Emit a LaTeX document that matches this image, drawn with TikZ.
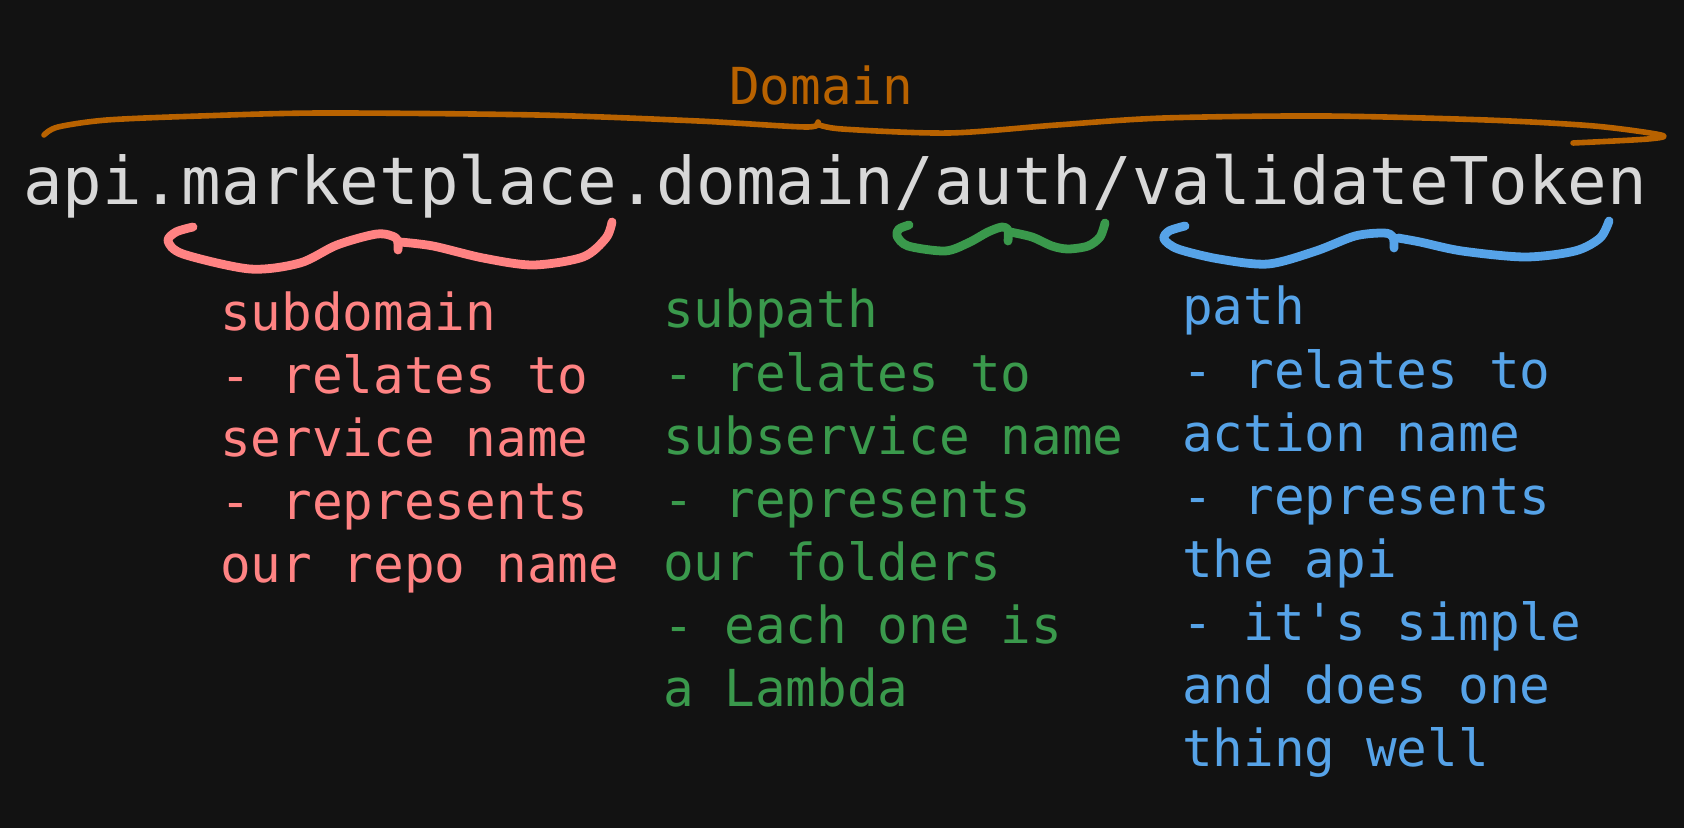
\documentclass[tikz,border=0pt]{standalone}
\usepackage{fontspec}
\setmonofont{DejaVu Sans Mono}
\definecolor{bgc}{HTML}{121212}
\definecolor{urlc}{HTML}{D8D8D8}
\definecolor{orangec}{HTML}{B86200}
\definecolor{redc}{HTML}{FF8383}
\definecolor{greenc}{HTML}{3A994C}
\definecolor{bluec}{HTML}{56A3E8}
\tikzset{
  txt/.style={anchor=base west, inner sep=0pt, outer sep=0pt, font=\ttfamily\fontsize{25.5}{31.5}\selectfont},
  bigtxt/.style={anchor=base west, inner sep=0pt, outer sep=0pt, font=\ttfamily\fontsize{32.9}{40}\selectfont},
  brace/.style={line width=4.4pt, line cap=round, line join=round},
  obrace/.style={line width=2.8pt, line cap=round, line join=round, draw=orangec}
}
\begin{document}
\begin{tikzpicture}[x=0.5pt,y=-0.5pt]
\fill[bgc] (0,0) rectangle (1684,828);
\useasboundingbox (0,0) rectangle (1684,828);
% Domain label and brace
\node[txt, text=orangec] (domain) at (729,105) {Domain};
\draw[obrace] plot[smooth, tension=0.5] coordinates {(44,135) (58,127) (107,120) (200,116) (322,113) (537,115) (698,121) (806,127) (818,122)};
\draw[obrace] plot[smooth, tension=0.5] coordinates {(817,124) (842,129) (949,133) (1057,125) (1164,118) (1325,116) (1486,120) (1594,126) (1661,135) (1648,139) (1573,143)};
% URL
\node[bigtxt, text=urlc] (url) at (23,205) {api.marketplace.domain/auth/validateToken};
% red brace
\draw[brace, draw=redc] plot[smooth, tension=0.5] coordinates {(193,227) (176,232) (168,241) (183,254) (250,269) (300,263) (337,245) (377,234) (396,238) (398,250)};
\draw[brace, draw=redc] plot[smooth, tension=0.5] coordinates {(400,242) (433,246) (483,258) (533,265) (583,257) (606,238) (612,222)};
% green brace
\draw[brace, draw=greenc] plot[smooth, tension=0.5] coordinates {(909,225) (899,229) (897,236) (908,246) (945,251) (968,243) (988,232) (1002,227) (1008,230) (1008,241)};
\draw[brace, draw=greenc] plot[smooth, tension=0.5] coordinates {(1010,232) (1032,237) (1052,246) (1068,249) (1088,246) (1100,237) (1105,223)};
% blue brace
\draw[brace, draw=bluec] plot[smooth, tension=0.5] coordinates {(1185,226) (1169,231) (1164,239) (1178,249) (1219,259) (1268,264) (1316,251) (1355,236) (1384,233) (1393,237) (1394,248)};
\draw[brace, draw=bluec] plot[smooth, tension=0.5] coordinates {(1398,238) (1420,242) (1462,251) (1525,257) (1575,251) (1600,238) (1609,221)};
% red column
\foreach \t [count=\i] in {subdomain,- relates to,service name,- represents,our repo name}
  \node[txt, text=redc] (r\i) at (220,{330+(\i-1)*63.1}) {\t};
% green column
\foreach \t [count=\i] in {subpath,- relates to,subservice name,- represents,our folders,- each one is,a Lambda}
  \node[txt, text=greenc] (g\i) at (663,{328+(\i-1)*63.1}) {\t};
% blue column
\foreach \t [count=\i] in {path,- relates to,action name,- represents,the api,- it's simple,and does one,thing well}
  \node[txt, text=bluec] (b\i) at (1182,{325+(\i-1)*63.1}) {\t};
\end{tikzpicture}
\end{document}
